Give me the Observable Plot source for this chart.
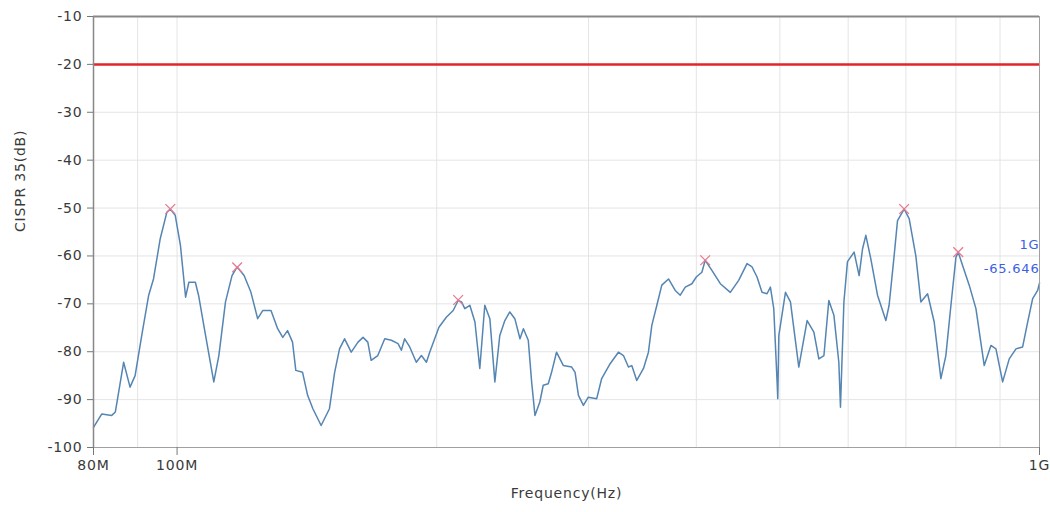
<!DOCTYPE html>
<html><head><meta charset="utf-8">
<script src="https://cdn.jsdelivr.net/npm/d3@7"></script>
<script src="https://cdn.jsdelivr.net/npm/@observablehq/plot@0.6"></script>
<style>body{margin:0;background:#fff;} svg text{letter-spacing:0.8px;}</style>
</head><body><div id="chart"></div>
<script>
const freqMHz = [80.0,81.8,84.0,84.8,86.7,88.2,89.4,91.0,92.7,93.9,95.6,97.3,98.2,99.5,100.9,102.3,103.2,105.0,105.9,107.9,110.3,111.8,113.8,115.8,117.4,119.6,121.8,124.0,125.7,128.5,130.8,132.6,134.3,136.1,137.3,139.8,141.7,143.7,146.9,150.2,152.3,154.3,156.4,159.2,162.1,164.3,166.4,167.9,170.9,174.1,177.2,180.4,182.0,183.6,186.1,189.4,192.0,194.6,196.3,201.2,205.2,209.0,211.8,213.7,215.6,218.5,221.5,224.4,227.4,230.5,233.6,236.7,239.9,243.1,246.4,249.8,252.1,255.4,257.7,260.0,263.4,265.8,269.4,271.8,275.4,280.5,286.8,289.4,292.0,295.9,299.8,306.6,310.7,317.8,324.9,329.3,333.7,336.7,341.2,347.4,352.0,355.2,360.0,364.8,371.4,378.1,383.2,388.4,395.3,400.0,406.0,409.6,417.0,426.5,438.0,447.9,458.0,464.2,470.4,476.7,483.1,487.5,491.9,496.3,497.2,498.6,507.5,514.3,525.9,537.7,547.5,554.8,562.4,569.8,577.6,585.2,587.8,593.2,598.9,609.6,617.8,623.5,629.0,637.4,648.9,657.7,663.5,669.3,678.3,684.5,696.7,706.1,718.8,728.5,741.7,754.9,768.5,778.8,789.4,800.0,804.9,814.4,828.9,843.9,862.8,878.4,890.2,906.3,922.4,939.1,956.0,968.9,981.9,995.1,1000];
const levelDB = [-95.8,-93.0,-93.3,-92.6,-82.2,-87.4,-85.0,-76.6,-68.2,-64.8,-56.4,-50.9,-50.2,-51.5,-57.8,-68.6,-65.5,-65.5,-68.2,-76.6,-86.3,-80.8,-69.6,-64.1,-62.3,-64.1,-67.6,-73.1,-71.4,-71.4,-75.2,-77.0,-75.6,-78.0,-83.9,-84.3,-89.1,-91.9,-95.4,-91.9,-84.3,-79.4,-77.3,-80.1,-78.0,-77.0,-78.0,-81.8,-80.8,-77.3,-77.6,-78.3,-79.7,-77.3,-79.0,-82.2,-80.8,-82.2,-80.1,-74.9,-72.8,-71.4,-69.3,-69.6,-71.0,-70.3,-73.8,-83.5,-70.3,-73.1,-86.3,-76.6,-73.5,-71.7,-73.1,-77.3,-75.2,-77.6,-86.3,-93.3,-90.5,-87.0,-86.7,-84.3,-80.1,-82.9,-83.2,-84.3,-89.1,-91.2,-89.5,-89.8,-85.6,-82.5,-80.1,-80.8,-83.2,-82.9,-86.0,-83.5,-80.1,-74.5,-70.3,-66.1,-64.8,-67.2,-68.2,-66.5,-65.8,-64.4,-63.4,-60.9,-63.0,-65.8,-67.6,-65.1,-61.6,-62.3,-64.4,-67.6,-67.9,-66.5,-71.0,-86.3,-89.8,-76.6,-67.6,-69.6,-83.2,-73.5,-75.9,-81.5,-80.8,-69.3,-72.4,-82.2,-91.6,-69.6,-61.2,-59.2,-64.1,-58.5,-55.7,-60.6,-68.2,-71.4,-73.5,-70.3,-60.0,-52.6,-50.2,-52.2,-60.0,-69.6,-67.9,-73.8,-85.6,-80.8,-70.3,-60.3,-59.2,-62.0,-66.1,-71.0,-82.9,-78.7,-79.4,-86.3,-81.5,-79.4,-79.0,-73.8,-68.9,-67.2,-65.646];
const peakFreqMHz = [98.2, 117.4, 211.8, 409.6, 696.7, 804.9];
const peakDB = [-50.2, -62.4, -69.2, -60.9, -50.2, -59.2];
const limitDB = -20;
const yTicks = [-10, -20, -30, -40, -50, -60, -70, -80, -90, -100];
const xTicks = [80, 100, 1000];
const xTickLabels = ["80M", "100M", "1G"];
const xGrid = [90, 100, 200, 300, 400, 500, 600, 700, 800, 900];
const cursorFreqMHz = 1000;
const cursorDB = -65.646;
const cursorFreqLabel = "1G";
const cursorValueLabel = "-65.646";

const trace = freqMHz.map((f, i) => ({f, v: levelDB[i]}));
const peaks = peakFreqMHz.map((f, i) => ({f, v: peakDB[i]}));
const xLabelMap = new Map(xTicks.map((t, i) => [t, xTickLabels[i]]));
const cursor = [{f: cursorFreqMHz, v: cursorDB}];
const font = "DejaVu Sans";

const chart = Plot.plot({
  width: 1050,
  height: 512,
  marginLeft: 93,
  marginRight: 11,
  marginTop: 16,
  marginBottom: 65,
  style: {fontFamily: font, fontSize: "14px", color: "#3a3a3a", background: "#fff"},
  x: {type: "log", domain: [80, 1000]},
  y: {domain: [-100, -10]},
  marks: [
    Plot.gridX(xGrid, {stroke: "#e4e4e4", strokeOpacity: 1}),
    Plot.gridY(yTicks, {stroke: "#e4e4e4", strokeOpacity: 1}),
    Plot.ruleY([limitDB], {stroke: "#e3242b", strokeWidth: 2.5}),
    Plot.line(trace, {x: "f", y: "v", stroke: "#5585b2", strokeWidth: 1.5}),
    Plot.dot(peaks, {x: "f", y: "v", symbol: "times", r: 4.5, stroke: "#e8798e", strokeWidth: 1.3}),
    Plot.frame({stroke: "#a0a0a0"}),
    Plot.ruleY([-10], {stroke: "#888", strokeWidth: 2}),
    Plot.ruleX([80], {stroke: "#888", strokeWidth: 1.5}),
    Plot.axisY(yTicks, {tickSize: 6, tickPadding: 5, tickFormat: d => String(d), label: null, stroke: "#777", fontSize: 14}),
    Plot.axisX(xTicks, {tickSize: 8, tickPadding: 5, tickFormat: d => xLabelMap.get(d), label: null, stroke: "#777", fontSize: 14}),
    Plot.text(cursor, {x: "f", y: "v", text: () => cursorFreqLabel, dy: -38, textAnchor: "end", fill: "#3c5ee6", fontSize: 13}),
    Plot.text(cursor, {x: "f", y: "v", text: () => cursorValueLabel, dy: -14, textAnchor: "end", fill: "#3c5ee6", fontSize: 13}),
    Plot.text(["CISPR 35(dB)"], {frameAnchor: "left", rotate: -90, dx: -73, fontSize: 14, fill: "#3a3a3a"}),
    Plot.text(["Frequency(Hz)"], {frameAnchor: "bottom", dy: 50, fontSize: 14, fill: "#3a3a3a"})
  ]
});
document.getElementById("chart").appendChild(chart);
</script>
</body></html>
